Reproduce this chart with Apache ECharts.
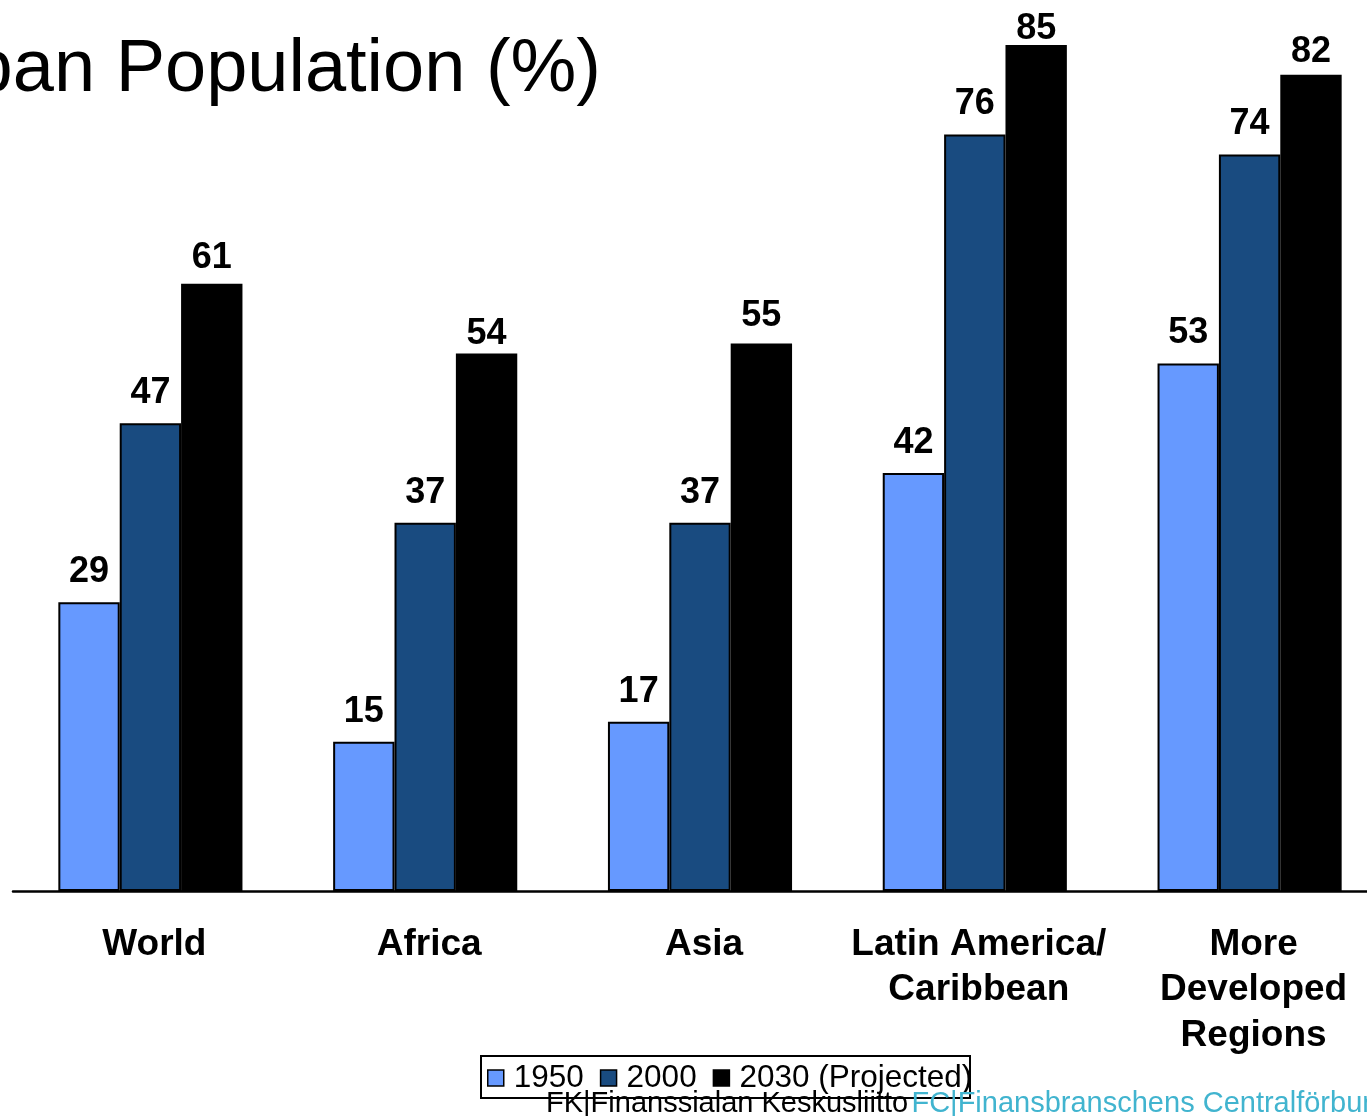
<!DOCTYPE html>
<html>
<head>
<meta charset="utf-8">
<style>
html,body{margin:0;padding:0;background:#fff;}
#chart{width:1367px;height:1116px;}
</style>
<script src="https://cdn.jsdelivr.net/npm/echarts@6/dist/echarts.min.js"></script>
</head>
<body>
<div id="chart"></div>
<script>
var categories = ['World', 'Africa', 'Asia', 'Latin America/\nCaribbean', 'More\nDeveloped\nRegions'];
var seriesNames = ['1950', '2000', '2030 (Projected)'];
var values1950 = [29, 15, 17, 42, 53];
var values2000 = [47, 37, 37, 76, 74];
var values2030 = [61, 54, 55, 85, 82];
var colors = ['#6699FF', '#194B80', '#000000'];
var titleText = 'Urban Population (%)';
var footerLeft = 'FK|Finanssialan Keskusliitto';
var footerRight = 'FC|Finansbranschens Centralförbund';

// label distance tweaks (style only, matches the hand-placed labels of the original)
var labelDist1950 = [12, 12, 12, 12, 12];
var labelDist2000 = [12, 12, 12, 12, 12];
var labelDist2030 = [8, 1, 10, -2, 5];

var FONT = '"Liberation Sans", Arial, Helvetica, sans-serif';
var chart = echarts.init(document.getElementById('chart'), null, {renderer: 'canvas'});

function makeSeries(name, values, dists, color) {
  return {
    name: name,
    type: 'bar',
    data: values.map(function (v, i) {
      return {value: v, label: {distance: dists[i]}};
    }),
    barGap: '0%',
    barCategoryGap: '33%',
    itemStyle: {color: color, borderColor: '#000', borderWidth: 2},
    label: {
      show: true,
      position: 'top',
      distance: 12,
      color: '#000',
      fontFamily: FONT,
      fontWeight: 'bold',
      fontSize: 36
    },
    emphasis: {disabled: true},
    animation: false
  };
}

chart.setOption({
  backgroundColor: '#fff',
  animation: false,
  grid: {left: 13, width: 1374, top: 45, bottom: 225, containLabel: false, outerBoundsMode: 'none'},
  xAxis: {
    type: 'category',
    data: categories,
    boundaryGap: true,
    axisLine: {show: true, lineStyle: {color: '#000', width: 2.5}},
    axisTick: {show: false},
    axisLabel: {
      interval: 0,
      margin: 31,
      color: '#000',
      fontFamily: FONT,
      fontWeight: 'bold',
      fontSize: 37,
      lineHeight: 45.5,
      align: 'center',
      padding: [0, 0, 0, 8]
    },
    splitLine: {show: false}
  },
  yAxis: {
    type: 'value',
    min: 0,
    max: 85,
    show: false,
    splitLine: {show: false}
  },
  legend: {
    data: seriesNames,
    left: 485,
    top: 1060,
    orient: 'horizontal',
    icon: 'rect',
    itemWidth: 16,
    itemHeight: 16,
    itemGap: 16,
    padding: [2, 2, 2, 2],
    selectedMode: false,
    itemStyle: {borderColor: '#000', borderWidth: 1.5},
    textStyle: {color: '#000', fontFamily: FONT, fontSize: 31.5, padding: [0, 0, 0, 5]}
  },
  graphic: [
    {
      type: 'text',
      x: 601,
      y: 71,
      style: {
        text: titleText,
        fill: '#000',
        font: 'normal 74px ' + FONT,
        textAlign: 'right',
        textVerticalAlign: 'middle'
      }
    },
    {
      type: 'rect',
      shape: {x: 481, y: 1056, width: 489, height: 42},
      style: {fill: 'none', stroke: '#000', lineWidth: 2},
      z: 10
    },
    {
      type: 'text',
      x: 546,
      y: 1104,
      z: 20,
      style: {
        text: '{a|' + footerLeft + '} {b|' + footerRight + '}',
        textVerticalAlign: 'middle',
        rich: {
          a: {fill: '#000', fontFamily: FONT, fontSize: 29},
          b: {fill: '#41B4CF', fontFamily: FONT, fontSize: 29}
        }
      }
    }
  ],
  series: [
    makeSeries(seriesNames[0], values1950, labelDist1950, colors[0]),
    makeSeries(seriesNames[1], values2000, labelDist2000, colors[1]),
    makeSeries(seriesNames[2], values2030, labelDist2030, colors[2])
  ]
});
</script>
</body>
</html>
